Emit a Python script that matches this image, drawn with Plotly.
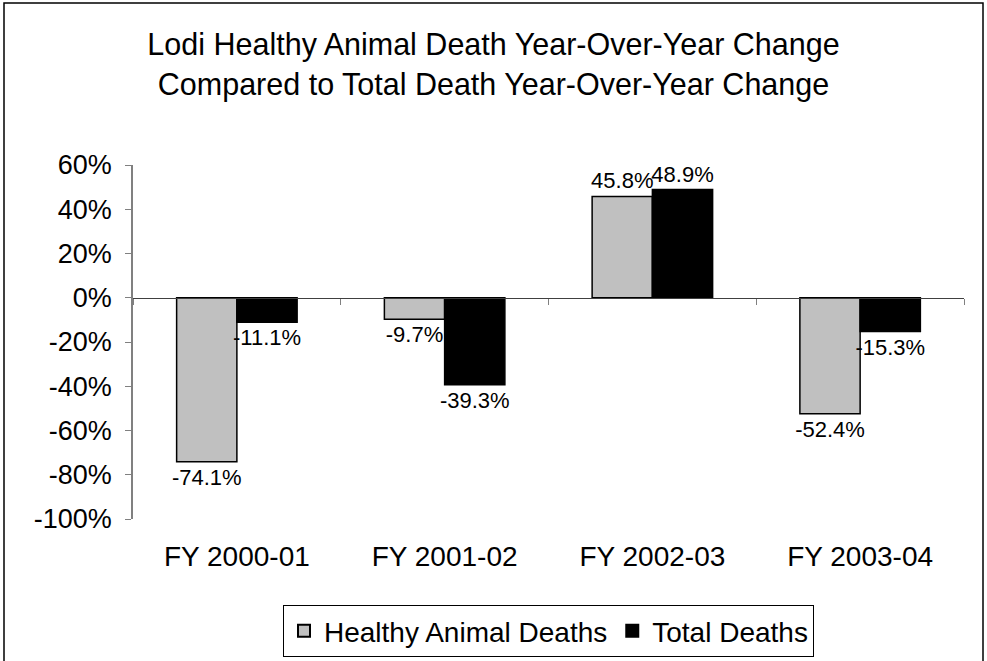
import plotly.graph_objects as go

# data
categories = ["FY 2000-01", "FY 2001-02", "FY 2002-03", "FY 2003-04"]
healthy_deaths = [-74.1, -9.7, 45.8, -52.4]
total_deaths = [-11.1, -39.3, 48.9, -15.3]
y_ticks = [-100, -80, -60, -40, -20, 0, 20, 40, 60]

FONT = "Arial, Liberation Sans, sans-serif"
AXIS_GREY = "#808080"

fig = go.Figure()

fig.add_trace(
    go.Bar(
        x=categories,
        y=healthy_deaths,
        name="Healthy Animal Deaths",
        marker=dict(color="#C0C0C0", line=dict(color="black", width=1.5)),
        text=[f"{v:.1f}%" for v in healthy_deaths],
        textposition="outside",
        constraintext="none",
        outsidetextfont=dict(family=FONT, size=22, color="black"),
        cliponaxis=False,
    )
)
fig.add_trace(
    go.Bar(
        x=categories,
        y=total_deaths,
        name="Total Deaths",
        marker=dict(color="black", line=dict(color="black", width=1.5)),
        text=[f"{v:.1f}%" for v in total_deaths],
        textposition="outside",
        constraintext="none",
        outsidetextfont=dict(family=FONT, size=22, color="black"),
        cliponaxis=False,
    )
)

# invisible helper trace so the bottom category-label axis gets drawn
fig.add_trace(
    go.Scatter(
        x=categories,
        y=total_deaths,
        xaxis="x2",
        mode="markers",
        marker=dict(opacity=0),
        showlegend=False,
        hoverinfo="skip",
    )
)

y_min, y_max = y_ticks[0], y_ticks[-1]
zero_pos = (0 - y_min) / (y_max - y_min)

fig.update_layout(
    width=987,
    height=661,
    paper_bgcolor="white",
    plot_bgcolor="white",
    font=dict(family=FONT, color="black"),
    margin=dict(l=133, r=23, t=165, b=142, autoexpand=False),
    barmode="group",
    bargap=0.42,
    bargroupgap=0,
    title=dict(
        text="Lodi Healthy Animal Death Year-Over-Year Change<br>"
        "Compared to Total Death Year-Over-Year Change",
        font=dict(family=FONT, size=30.5, color="black"),
        x=0.5,
        xref="container",
        xanchor="center",
        y=1 - 55 / 661,
        yref="container",
        yanchor="middle",
    ),
    # category axis drawn at the zero line, ticks between categories
    xaxis=dict(
        anchor="free",
        position=zero_pos,
        showline=True,
        linecolor="#404040",
        linewidth=1,
        ticks="outside",
        tickson="boundaries",
        ticklen=6,
        tickcolor=AXIS_GREY,
        showticklabels=False,
        showgrid=False,
        zeroline=False,
    ),
    # bottom labels for the categories
    xaxis2=dict(
        overlaying="x",
        matches="x",
        anchor="y",
        side="bottom",
        showline=False,
        ticks="",
        showticklabels=True,
        tickfont=dict(family=FONT, size=28, color="black"),
        ticklabelstandoff=18,
        showgrid=False,
        zeroline=False,
    ),
    yaxis=dict(
        range=[y_min, y_max],
        tickvals=y_ticks,
        ticktext=[f"{v}%" for v in y_ticks],
        showline=True,
        linecolor=AXIS_GREY,
        linewidth=1.5,
        ticks="outside",
        ticklen=6,
        tickcolor=AXIS_GREY,
        tickfont=dict(family=FONT, size=27, color="black"),
        ticklabelstandoff=8,
        showgrid=False,
        zeroline=False,
    ),
    legend=dict(
        orientation="h",
        x=0.5,
        xanchor="center",
        y=(519 - 605) / 354,
        yanchor="top",
        font=dict(family=FONT, size=28, color="black"),
        bordercolor="black",
        borderwidth=1,
        bgcolor="white",
        itemsizing="constant",
    ),
)

# outer chart frame
fig.add_shape(
    type="rect",
    xref="paper",
    yref="paper",
    x0=(4 - 133) / 831,
    x1=(983 - 133) / 831,
    y0=-0.6,
    y1=(519 - 3) / 354,
    line=dict(color="black", width=1.5),
    fillcolor="rgba(0,0,0,0)",
    layer="below",
)

# drop the browser's default body margin so the figure sits at the page corner
fig.write_html(
    "out.html",
    config={"displayModeBar": False},
    post_script="document.body.style.margin = '0';",
)
